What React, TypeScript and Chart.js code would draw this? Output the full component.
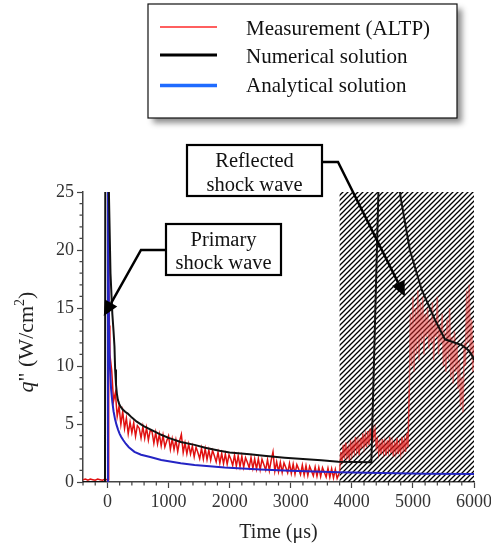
import React, { useEffect, useRef } from "react";
import { Chart, registerables } from "chart.js";

Chart.register(...registerables);

// ---------- axis setup ----------
const xMin = -400;
const xMax = 6000;
const yMin = 0;
const yMax = 25;
const xTickValues = [0, 1000, 2000, 3000, 4000, 5000, 6000];
const yTickValues = [0, 5, 10, 15, 20, 25];
const xMinorStep = 200;
const yMinorStep = 1;
const xTitle = "Time (μs)";
const seriesNames = ["Measurement (ALTP)", "Numerical solution", "Analytical solution"];

// shaded (hatched) time window
const shadedStart = 3800;
const shadedEnd = 6000;

// ---------- measurement (ALTP) ----------
const preShockTime = [-400, -360, -320, -280, -240, -200, -160, -120, -80, -40, -10, 14, 16, 25, 32];
const preShockValue = [0.2, 0.25, 0.15, 0.25, 0.2, 0.15, 0.25, 0.2, 0.15, 0.25, 0.2, 0.2, 25.5, 17, 13.5];

const decayTime = [
  40, 70, 100, 130, 160, 190, 220, 250, 280, 310,
  340, 370, 400, 430, 460, 490, 520, 550, 580, 610,
  640, 670, 700, 730, 760, 790, 820, 850, 880, 910,
  940, 970, 1000, 1030, 1060, 1090, 1120, 1150, 1180, 1210,
  1240, 1270, 1300, 1330, 1360, 1390, 1420, 1450, 1480, 1510,
  1540, 1570, 1600, 1630, 1660, 1690, 1720, 1750, 1780, 1810,
  1840, 1870, 1900, 1930, 1960, 1990, 2020, 2050, 2080, 2110,
  2140, 2170, 2200, 2230, 2260, 2290, 2320, 2350, 2380, 2410,
  2440, 2470, 2500, 2530, 2560, 2590, 2620, 2650, 2680, 2710,
  2740, 2770, 2800, 2830, 2860, 2890, 2920, 2950, 2980, 3010,
  3040, 3070, 3100, 3130, 3160, 3190, 3220, 3250, 3280, 3310,
  3340, 3370, 3400, 3430, 3460, 3490, 3520, 3550, 3580, 3610,
  3640, 3670, 3700, 3730, 3760, 3790,
];
const decayValue = [
  11.0, 9.6, 6.96, 7.7, 5.66, 6.54, 4.96, 6.07, 4.62, 5.51,
  4.16, 5.17, 4.25, 5.1, 3.94, 4.86, 4.64, 3.78, 4.77, 3.76,
  4.68, 3.61, 4.45, 4.34, 3.34, 4.27, 3.27, 4.12, 3.12, 4.04,
  3.03, 3.54, 3.97, 2.81, 3.72, 2.79, 3.62, 2.61, 3.52, 4.1,
  2.53, 3.36, 2.43, 3.26, 2.4, 3.09, 2.17, 3.01, 2.55, 2.01,
  2.92, 1.98, 2.88, 1.94, 2.76, 1.89, 2.72, 2.26, 1.73, 2.56,
  1.63, 2.46, 1.59, 2.41, 1.54, 2.35, 1.97, 1.43, 2.32, 1.37,
  2.27, 1.33, 2.22, 1.27, 2.09, 1.7, 1.23, 2.12, 1.18, 1.99,
  1.12, 2.01, 1.07, 1.96, 1.5, 1.03, 1.92, 0.98, 1.87, 2.6,
  0.94, 1.75, 0.88, 1.69, 0.83, 1.64, 1.25, 0.79, 1.61, 0.74,
  1.55, 0.68, 1.5, 1.11, 0.64, 1.46, 0.59, 1.41, 0.56, 1.34,
  0.95, 0.53, 1.29, 0.5, 1.26, 0.47, 1.24, 0.84, 0.43, 1.19,
  0.41, 1.14, 0.36, 1.09, 0.31, 0.7,
];

const reflectedTime = [
  3800, 3820, 3840, 3860, 3880, 3900, 3920, 3940, 3960, 3980, 4000, 4020, 4040, 4060, 4080, 4100, 4120, 4140, 4160, 4180,
  4200, 4220, 4240, 4260, 4280, 4300, 4320, 4340, 4360, 4380, 4400, 4420, 4440, 4460, 4480, 4500, 4520, 4540, 4560, 4580,
  4600, 4620, 4640, 4660, 4680, 4700, 4720, 4740, 4760, 4780, 4800, 4820, 4840, 4860, 4880, 4900, 4920,
];
const reflectedValue = [
  0.9, 2.6, 1.6, 3.2, 2.0, 3.4, 2.2, 2.9, 1.9, 3.6, 2.4, 3.3, 2.6, 3.9, 2.7, 3.5, 2.3, 3.8, 2.9, 4.2,
  3.1, 4.0, 3.0, 4.4, 3.2, 4.6, 3.6, 4.9, 3.8, 4.5, 3.0, 3.6, 2.5, 3.3, 2.4, 3.7, 2.6, 3.4, 2.3, 3.6,
  2.7, 3.9, 2.5, 3.4, 2.2, 3.5, 2.6, 3.8, 2.4, 3.3, 2.5, 3.9, 2.8, 3.6, 2.6, 4.2, 3.0,
];

const lateTime = [
  4940, 4960, 4980, 5000, 5020, 5040, 5060, 5080, 5100, 5120, 5140, 5160, 5180, 5200, 5220, 5240, 5260, 5280, 5300, 5320,
  5340, 5360, 5380, 5400, 5420, 5440, 5460, 5480, 5500, 5520, 5540, 5560, 5580, 5600, 5620, 5640, 5660, 5680, 5700, 5720,
  5740, 5760, 5780, 5800, 5820, 5840, 5860, 5880, 5900, 5920, 5940, 5960, 5980, 6000,
];
const lateValue = [
  8.0, 14.5, 10.0, 16.0, 9.5, 15.0, 11.0, 16.5, 10.5, 15.5, 12.0, 16.0, 11.0, 14.5, 12.5, 15.0, 11.5, 14.0, 12.0, 15.5,
  10.5, 14.0, 12.5, 16.0, 11.0, 13.5, 12.0, 14.5, 10.0, 13.0, 9.5, 14.0, 10.5, 15.0, 9.0, 12.5, 8.5, 13.0, 9.5, 12.0,
  8.0, 10.5, 6.5, 9.0, 6.0, 12.0, 10.0, 16.5, 12.0, 17.0, 11.0, 14.0, 9.5, 12.0,
];

// ---------- numerical solution ----------
const numTime = [
  -400, -40, -35, 20, 50, 80, 100, 115, 126, 140,
  155, 170, 190, 215, 250, 290, 333, 400, 480, 600,
  750, 880, 1000, 1200, 1426, 1600, 1836, 2000, 2328, 2600,
  2900, 3200, 3500, 3780, 4320, 4470, 4600, 4700, 4800, 4950,
  5142, 5360, 5525, 5690, 5800, 5900, 5960, 6000,
];
const numValue = [
  0, 0, 28, 26, 18, 14.5, 13, 11.7, 9.7, 8.4,
  7.6, 7.1, 6.75, 6.5, 6.25, 6.05, 5.9, 5.55, 5.2, 4.8,
  4.4, 4.07, 3.8, 3.45, 3.2, 2.95, 2.7, 2.55, 2.4, 2.25,
  2.1, 1.98, 1.87, 1.75, 1.7, 32, 33, 29, 24.5, 20.0,
  16.6, 14.0, 12.3, 12.0, 11.8, 11.4, 11.0, 10.5,
];

// ---------- analytical solution ----------
const anaTime = [
  5, 8, 25, 40, 60, 80, 100, 125, 150, 175,
  200, 224, 260, 300, 350, 442, 550, 700, 880, 1200,
  1426, 1918, 2500, 3000, 3775, 4500, 5200, 6000,
];
const anaValue = [
  0, 30, 13, 10, 8, 6.9, 6.1, 5.4, 4.9, 4.5,
  4.15, 3.9, 3.6, 3.3, 3.0, 2.6, 2.35, 2.15, 1.9, 1.62,
  1.47, 1.24, 1.08, 0.98, 0.85, 0.77, 0.72, 0.7,
];

// annotation arrow tips (data coordinates)
const primaryTip = { x: -60, y: 14.3 };
const reflectedTip = { x: 4870, y: 16.0 };

const toPoints = (t: number[], v: number[]) => t.map((x, i) => ({ x, y: v[i] }));

const SERIF = '"Liberation Serif", "Times New Roman", serif';

function drawArrow(ctx: CanvasRenderingContext2D, pts: { x: number; y: number }[]) {
  const n = pts.length;
  const tip = pts[n - 1];
  const prev = pts[n - 2];
  const dx = tip.x - prev.x;
  const dy = tip.y - prev.y;
  const len = Math.hypot(dx, dy);
  const ux = dx / len;
  const uy = dy / len;
  const headLen = 15;
  const headW = 7;
  const bx = tip.x - ux * headLen;
  const by = tip.y - uy * headLen;
  ctx.save();
  ctx.strokeStyle = "#000";
  ctx.lineWidth = 2.5;
  ctx.lineJoin = "miter";
  ctx.beginPath();
  ctx.moveTo(pts[0].x, pts[0].y);
  for (let i = 1; i < n - 1; i++) ctx.lineTo(pts[i].x, pts[i].y);
  ctx.lineTo(bx, by);
  ctx.stroke();
  ctx.fillStyle = "#000";
  ctx.beginPath();
  ctx.moveTo(tip.x, tip.y);
  ctx.lineTo(bx - uy * headW, by + ux * headW);
  ctx.lineTo(bx + uy * headW, by - ux * headW);
  ctx.closePath();
  ctx.fill();
  ctx.restore();
}

function drawTextBox(
  ctx: CanvasRenderingContext2D,
  x: number,
  y: number,
  w: number,
  h: number,
  lines: string[],
  baselines: number[]
) {
  ctx.save();
  ctx.fillStyle = "#fff";
  ctx.fillRect(x, y, w, h);
  ctx.strokeStyle = "#000";
  ctx.lineWidth = 2.2;
  ctx.strokeRect(x, y, w, h);
  ctx.fillStyle = "#111";
  ctx.font = `20.5px ${SERIF}`;
  ctx.textAlign = "center";
  ctx.textBaseline = "alphabetic";
  lines.forEach((l, i) => ctx.fillText(l, x + w / 2, baselines[i]));
  ctx.restore();
}

const overlayPlugin = {
  id: "overlay",
  beforeDatasetsDraw(chart: any) {
    const { ctx, scales } = chart;
    const xs = scales.x;
    const ys = scales.y;
    const x1 = xs.getPixelForValue(shadedStart);
    const x2 = xs.getPixelForValue(shadedEnd);
    const yt = ys.getPixelForValue(yMax);
    const yb = ys.getPixelForValue(yMin);
    const s = 5;
    const tile = document.createElement("canvas");
    tile.width = s;
    tile.height = s;
    const t = tile.getContext("2d")!;
    t.strokeStyle = "#000";
    t.lineWidth = 1.3;
    t.beginPath();
    t.moveTo(0, s);
    t.lineTo(s, 0);
    t.moveTo(-1, 1);
    t.lineTo(1, -1);
    t.moveTo(s - 1, s + 1);
    t.lineTo(s + 1, s - 1);
    t.stroke();
    const pattern = ctx.createPattern(tile, "repeat");
    ctx.save();
    ctx.fillStyle = pattern;
    ctx.fillRect(x1, yt, x2 - x1, yb - yt);
    ctx.restore();
  },
  afterDraw(chart: any) {
    const { ctx, scales, chartArea } = chart;
    const xs = scales.x;
    const ys = scales.y;

    // minor ticks
    ctx.save();
    ctx.strokeStyle = "#444";
    ctx.lineWidth = 1.2;
    ctx.beginPath();
    for (let v = xMin; v <= xMax; v += xMinorStep) {
      if (xTickValues.includes(v)) continue;
      const px = xs.getPixelForValue(v);
      ctx.moveTo(px, chartArea.bottom);
      ctx.lineTo(px, chartArea.bottom + 3.5);
    }
    for (let v = yMin; v <= yMax; v += yMinorStep) {
      if (yTickValues.includes(v)) continue;
      const py = ys.getPixelForValue(v);
      ctx.moveTo(chartArea.left - 3.5, py);
      ctx.lineTo(chartArea.left, py);
    }
    ctx.stroke();
    ctx.restore();

    // x title
    ctx.save();
    ctx.fillStyle = "#222";
    ctx.font = `20px ${SERIF}`;
    ctx.textAlign = "center";
    ctx.textBaseline = "alphabetic";
    ctx.fillText(xTitle, (chartArea.left + chartArea.right) / 2, 538);
    ctx.restore();

    // y title: q'' (W/cm^2)
    ctx.save();
    const parts = [
      { text: "q", font: `italic 22px ${SERIF}`, rise: 0 },
      { text: '" (W/cm', font: `22px ${SERIF}`, rise: 0 },
      { text: "2", font: `14px ${SERIF}`, rise: -9 },
      { text: ")", font: `22px ${SERIF}`, rise: 0 },
    ];
    let total = 0;
    const widths = parts.map((p) => {
      ctx.font = p.font;
      const w = ctx.measureText(p.text).width;
      total += w;
      return w;
    });
    const cy = (chartArea.top + chartArea.bottom) / 2 + 5;
    ctx.translate(33, cy);
    ctx.rotate(-Math.PI / 2);
    ctx.fillStyle = "#222";
    ctx.textBaseline = "alphabetic";
    ctx.textAlign = "left";
    let cx = -total / 2;
    parts.forEach((p, i) => {
      ctx.font = p.font;
      ctx.fillText(p.text, cx, p.rise);
      cx += widths[i];
    });
    ctx.restore();

    // legend
    ctx.save();
    const lx = 148;
    const ly = 4;
    const lw = 309;
    const lh = 114;
    ctx.shadowColor = "rgba(0,0,0,0.45)";
    ctx.shadowBlur = 6;
    ctx.shadowOffsetX = 5;
    ctx.shadowOffsetY = 5;
    ctx.fillStyle = "#fff";
    ctx.fillRect(lx, ly, lw, lh);
    ctx.shadowColor = "transparent";
    ctx.strokeStyle = "#111";
    ctx.lineWidth = 1.2;
    ctx.strokeRect(lx, ly, lw, lh);
    const legendColors = ["#ff2a2a", "#000000", "#1f6bff"];
    const legendWidths = [1.6, 3, 3.5];
    const lineYs = [27, 55, 85.5];
    const baseYs = [35, 63, 92];
    ctx.font = `21px ${SERIF}`;
    ctx.textAlign = "left";
    ctx.textBaseline = "alphabetic";
    seriesNames.forEach((name, i) => {
      ctx.strokeStyle = legendColors[i];
      ctx.lineWidth = legendWidths[i];
      ctx.beginPath();
      ctx.moveTo(160, lineYs[i]);
      ctx.lineTo(217, lineYs[i]);
      ctx.stroke();
      ctx.fillStyle = "#111";
      ctx.fillText(name, 246, baseYs[i]);
    });
    ctx.restore();

    // annotations
    const pTip = { x: xs.getPixelForValue(primaryTip.x), y: ys.getPixelForValue(primaryTip.y) };
    const rTip = { x: xs.getPixelForValue(reflectedTip.x), y: ys.getPixelForValue(reflectedTip.y) };
    drawArrow(ctx, [{ x: 166, y: 250 }, { x: 141, y: 250 }, pTip]);
    drawArrow(ctx, [{ x: 322, y: 162 }, { x: 338, y: 162 }, rTip]);
    drawTextBox(ctx, 187, 145, 135, 51, ["Reflected", "shock wave"], [167, 191]);
    drawTextBox(ctx, 166, 224, 115, 51, ["Primary", "shock wave"], [246, 269]);
  },
};

export default function App() {
  const canvasRef = useRef<HTMLCanvasElement | null>(null);

  useEffect(() => {
    document.body.style.margin = "0";
    const canvas = canvasRef.current;
    if (!canvas) return;

    const measPoints = [
      ...toPoints(preShockTime, preShockValue),
      ...toPoints(decayTime, decayValue),
      ...toPoints(reflectedTime, reflectedValue),
      ...toPoints(lateTime, lateValue),
    ];

    const tickFont = { family: SERIF, size: 18 };

    const chart = new Chart(canvas, {
      type: "line",
      data: {
        datasets: [
          {
            label: seriesNames[0],
            data: measPoints,
            borderColor: "#e01010",
            borderWidth: 1.5,
            pointRadius: 0,
            tension: 0,
            order: 3,
            segment: {
              borderColor: (c: any) =>
                c.p0.parsed.x >= 4930
                  ? "rgba(232,40,40,0.5)"
                  : c.p0.parsed.x >= 3795
                  ? "rgba(226,20,20,0.72)"
                  : undefined,
            },
          },
          {
            label: seriesNames[2],
            data: toPoints(anaTime, anaValue),
            borderColor: "#2424c4",
            borderWidth: 2,
            pointRadius: 0,
            tension: 0,
            order: 2,
          },
          {
            label: seriesNames[1],
            data: toPoints(numTime, numValue),
            borderColor: "#111111",
            borderWidth: 2,
            pointRadius: 0,
            tension: 0,
            order: 1,
          },
        ],
      },
      options: {
        animation: false,
        responsive: false,
        maintainAspectRatio: false,
        layout: { padding: { left: 0, right: 17, top: 192, bottom: 0 } },
        plugins: {
          legend: { display: false },
          tooltip: { enabled: false },
          title: { display: false },
        },
        scales: {
          x: {
            type: "linear",
            min: xMin,
            max: xMax,
            afterBuildTicks: (s: any) => {
              s.ticks = xTickValues.map((v) => ({ value: v }));
            },
            afterFit: (s: any) => {
              s.height = 64;
              s.paddingLeft = 0;
              s.paddingRight = 0;
            },
            grid: {
              drawOnChartArea: false,
              drawTicks: true,
              tickLength: 6,
              tickColor: "#444",
              tickWidth: 1.2,
            },
            border: { display: true, color: "#444", width: 1.5 },
            ticks: {
              font: tickFont,
              color: "#333",
              padding: 3,
              maxRotation: 0,
              autoSkip: false,
              callback: (v: any) => String(v),
            },
          },
          y: {
            type: "linear",
            min: yMin,
            max: yMax,
            afterBuildTicks: (s: any) => {
              s.ticks = yTickValues.map((v) => ({ value: v }));
            },
            afterFit: (s: any) => {
              s.width = 83;
              s.paddingTop = 0;
              s.paddingBottom = 0;
            },
            grid: {
              drawOnChartArea: false,
              drawTicks: true,
              tickLength: 6,
              tickColor: "#444",
              tickWidth: 1.2,
            },
            border: { display: true, color: "#444", width: 1.5 },
            ticks: {
              font: tickFont,
              color: "#333",
              padding: 3,
              autoSkip: false,
              callback: (v: any) => String(v),
            },
          },
        },
      },
      plugins: [overlayPlugin],
    } as any);

    return () => chart.destroy();
  }, []);

  return (
    <div style={{ width: 491, height: 546, position: "relative", background: "#fff" }}>
      <canvas ref={canvasRef} width={491} height={546} style={{ display: "block" }} />
    </div>
  );
}
